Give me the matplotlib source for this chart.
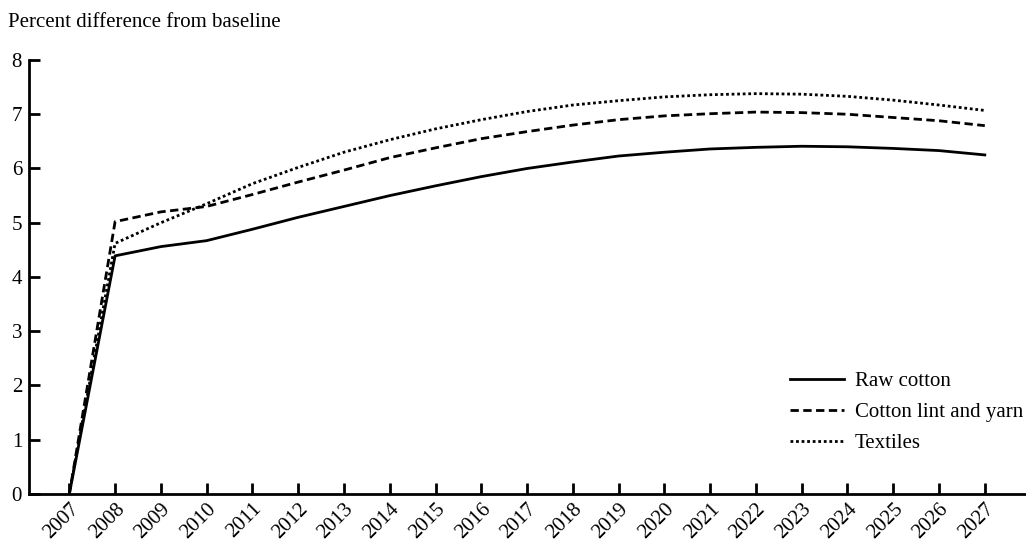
import matplotlib.pyplot as plt

years = list(range(2007, 2028))
raw_cotton = [0, 4.39, 4.56, 4.67, 4.88, 5.10, 5.30, 5.50, 5.68, 5.85, 6.00,
              6.12, 6.23, 6.30, 6.36, 6.39, 6.41, 6.40, 6.37, 6.33, 6.25]
lint_yarn = [0, 5.02, 5.20, 5.30, 5.52, 5.75, 5.97, 6.20, 6.38, 6.55, 6.68,
             6.80, 6.90, 6.97, 7.01, 7.04, 7.03, 7.00, 6.94, 6.88, 6.79]
textiles = [0, 4.62, 5.00, 5.35, 5.72, 6.02, 6.30, 6.53, 6.73, 6.90, 7.05,
            7.17, 7.25, 7.32, 7.36, 7.38, 7.37, 7.33, 7.26, 7.17, 7.07]

plt.rcParams["font.family"] = ["Liberation Serif", "DejaVu Serif"]
FS = 15

fig = plt.figure(figsize=(10.26, 5.42), dpi=100)
ax = fig.add_axes([0.0283, 0.0886, 0.9717, 0.8007])

ax.plot(years, raw_cotton, color="black", linewidth=2, linestyle="-", label="Raw cotton")
ax.plot(years, lint_yarn, color="black", linewidth=2, linestyle=(0, (3, 1.6)), label="Cotton lint and yarn")
ax.plot(years, textiles, color="black", linewidth=2, linestyle=(0, (1, 1)), label="Textiles")

ax.set_xlim(2006.12, 2027.9)
ax.set_ylim(0, 8)
ax.set_xticks(years)
ax.set_xticklabels([str(y) for y in years], rotation=45, ha="right", rotation_mode="anchor")
ax.set_yticks(range(0, 9))

for side in ["top", "right"]:
    ax.spines[side].set_visible(False)
for side in ["left", "bottom"]:
    ax.spines[side].set_linewidth(2)
ax.tick_params(direction="in", length=8, width=2, labelsize=FS)
ax.tick_params(axis="y", pad=5)
ax.tick_params(axis="x", pad=4)

fig.text(0.008, 0.958, "Percent difference from baseline", fontsize=FS, va="center", ha="left")

ax.legend(loc="upper left", bbox_to_anchor=(0.77, 0.315), bbox_transform=fig.transFigure,
          frameon=False, fontsize=FS, handlelength=2.6, handletextpad=0.5, labelspacing=0.55,
          borderaxespad=0, borderpad=0)

fig.savefig("out.png", dpi=100)
